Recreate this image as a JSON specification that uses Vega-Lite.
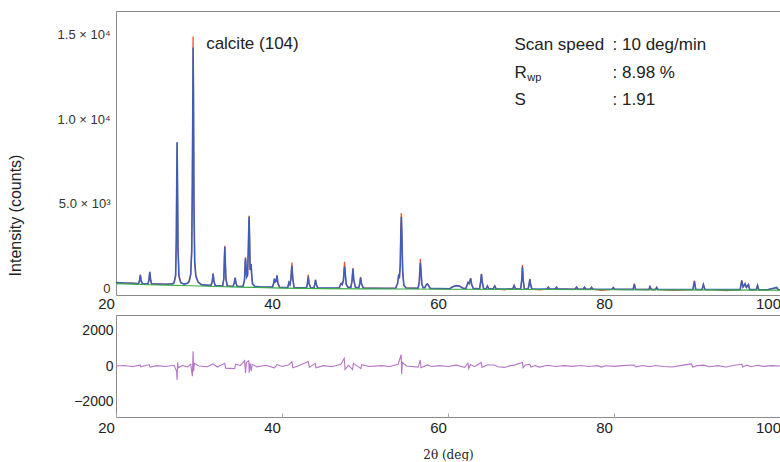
{
  "$schema": "https://vega.github.io/schema/vega-lite/v6.json",
  "background": "white",
  "padding": {"left": 6, "top": 10, "right": 0, "bottom": 0},
  "spacing": 2,
  "config": {
    "view": {"stroke": "#8a8a8a", "strokeWidth": 1},
    "axis": {"grid": false, "ticks": false, "domain": false, "labelFont": "Liberation Sans", "labelColor": "#222222", "labelFontSize": 15, "titleFontWeight": "normal", "titleColor": "#222222"}
  },
  "datasets": {
    "pattern": [
      {"x":20,"o":370,"c":360},{"x":21,"o":330,"c":340},{"x":22,"o":330,"c":320},{"x":22.6,"o":300,"c":305},
      {"x":22.7,"o":300,"c":300},{"x":22.82,"o":450,"c":430},{"x":22.93,"o":830,"c":800},{"x":23.04,"o":450,"c":430},{"x":23.2,"o":295,"c":295},
      {"x":23.85,"o":285,"c":285},{"x":23.96,"o":500,"c":480},{"x":24.07,"o":1010,"c":980},{"x":24.18,"o":500,"c":480},{"x":24.3,"o":285,"c":282},
      {"x":25,"o":280,"c":275},{"x":26,"o":270,"c":262},{"x":26.8,"o":290,"c":285},
      {"x":27.0,"o":360,"c":350},{"x":27.18,"o":800,"c":750},{"x":27.27,"o":3000,"c":2900},{"x":27.32,"o":7000,"c":6500},{"x":27.36,"o":8600,"c":8650},{"x":27.41,"o":6000,"c":6300},{"x":27.47,"o":2500,"c":2400},{"x":27.58,"o":800,"c":750},{"x":27.8,"o":360,"c":360},
      {"x":28.2,"o":270,"c":270},{"x":28.6,"o":320,"c":320},
      {"x":28.8,"o":420,"c":420},{"x":29.0,"o":850,"c":850},{"x":29.12,"o":2200,"c":2200},{"x":29.2,"o":6000,"c":6200},{"x":29.25,"o":11000,"c":10500},{"x":29.29,"o":14870,"c":14220},{"x":29.33,"o":12000,"c":11800},{"x":29.39,"o":5000,"c":5300},{"x":29.48,"o":1600,"c":1600},{"x":29.62,"o":750,"c":750},{"x":29.9,"o":380,"c":390},{"x":30.3,"o":230,"c":240},
      {"x":31.45,"o":190,"c":190},{"x":31.6,"o":450,"c":430},{"x":31.7,"o":910,"c":880},{"x":31.8,"o":450,"c":430},{"x":31.95,"o":185,"c":185},{"x":32.5,"o":170,"c":170},
      {"x":32.85,"o":165,"c":165},{"x":32.99,"o":600,"c":580},{"x":33.06,"o":1800,"c":1750},{"x":33.11,"o":2540,"c":2480},{"x":33.16,"o":1800,"c":1750},{"x":33.24,"o":600,"c":580},{"x":33.4,"o":165,"c":165},
      {"x":34.1,"o":140,"c":140},{"x":34.25,"o":350,"c":340},{"x":34.35,"o":650,"c":640},{"x":34.45,"o":350,"c":340},{"x":34.6,"o":135,"c":135},
      {"x":35.3,"o":140,"c":140},{"x":35.48,"o":500,"c":500},{"x":35.56,"o":1500,"c":1450},{"x":35.6,"o":1850,"c":1800},{"x":35.66,"o":1300,"c":1350},{"x":35.75,"o":700,"c":700},{"x":35.85,"o":800,"c":800},{"x":35.95,"o":2500,"c":2400},{"x":36.01,"o":4000,"c":3900},{"x":36.04,"o":4310,"c":4250},{"x":36.09,"o":3000,"c":3100},{"x":36.16,"o":1100,"c":1100},{"x":36.24,"o":1300,"c":1300},{"x":36.28,"o":1475,"c":1450},{"x":36.34,"o":900,"c":900},{"x":36.45,"o":300,"c":300},{"x":36.7,"o":140,"c":140},
      {"x":37.5,"o":100,"c":105},{"x":38.5,"o":90,"c":95},
      {"x":38.85,"o":100,"c":100},{"x":38.98,"o":300,"c":300},{"x":39.08,"o":560,"c":600},{"x":39.18,"o":400,"c":400},{"x":39.3,"o":450,"c":450},{"x":39.4,"o":780,"c":790},{"x":39.5,"o":350,"c":350},{"x":39.7,"o":90,"c":90},{"x":40.4,"o":70,"c":70},
      {"x":40.7,"o":80,"c":80},{"x":40.83,"o":370,"c":360},{"x":40.95,"o":250,"c":250},{"x":41.08,"o":600,"c":600},{"x":41.19,"o":1550,"c":1350},{"x":41.3,"o":600,"c":600},{"x":41.45,"o":75,"c":75},{"x":42.5,"o":60,"c":60},
      {"x":42.95,"o":60,"c":60},{"x":43.06,"o":300,"c":300},{"x":43.16,"o":830,"c":720},{"x":43.26,"o":300,"c":300},{"x":43.45,"o":55,"c":55},
      {"x":43.85,"o":55,"c":55},{"x":43.95,"o":250,"c":250},{"x":44.04,"o":530,"c":520},{"x":44.14,"o":250,"c":250},{"x":44.3,"o":50,"c":50},
      {"x":45.5,"o":40,"c":45},{"x":46.6,"o":45,"c":45},
      {"x":46.9,"o":60,"c":60},{"x":47.06,"o":250,"c":260},{"x":47.14,"o":320,"c":300},{"x":47.25,"o":250,"c":250},{"x":47.4,"o":500,"c":480},{"x":47.5,"o":1300,"c":1200},{"x":47.54,"o":1590,"c":1300},{"x":47.62,"o":900,"c":900},{"x":47.74,"o":250,"c":250},{"x":47.95,"o":80,"c":80},
      {"x":48.3,"o":80,"c":80},{"x":48.44,"o":500,"c":480},{"x":48.55,"o":1220,"c":1180},{"x":48.65,"o":500,"c":500},{"x":48.85,"o":80,"c":80},
      {"x":49.25,"o":60,"c":60},{"x":49.37,"o":300,"c":300},{"x":49.47,"o":680,"c":660},{"x":49.57,"o":300,"c":300},{"x":49.8,"o":40,"c":40},
      {"x":51,"o":30,"c":30},{"x":52.5,"o":25,"c":25},
      {"x":53.7,"o":40,"c":40},{"x":53.92,"o":300,"c":300},{"x":54.05,"o":760,"c":770},{"x":54.15,"o":700,"c":700},{"x":54.25,"o":1500,"c":1400},{"x":54.32,"o":3500,"c":3400},{"x":54.38,"o":4470,"c":4250},{"x":54.45,"o":3000,"c":3100},{"x":54.54,"o":1000,"c":1000},{"x":54.68,"o":200,"c":200},{"x":54.95,"o":40,"c":40},
      {"x":56.4,"o":30,"c":30},{"x":56.54,"o":400,"c":400},{"x":56.62,"o":1300,"c":1200},{"x":56.67,"o":1750,"c":1530},{"x":56.74,"o":1100,"c":1100},{"x":56.84,"o":300,"c":300},{"x":57.0,"o":60,"c":60},
      {"x":57.2,"o":60,"c":60},{"x":57.4,"o":250,"c":250},{"x":57.52,"o":290,"c":280},{"x":57.65,"o":200,"c":200},{"x":57.85,"o":20,"c":20},{"x":59.0,"o":5,"c":10},
      {"x":60.2,"o":0,"c":0},{"x":60.6,"o":120,"c":120},{"x":61.0,"o":180,"c":180},{"x":61.4,"o":150,"c":150},{"x":61.8,"o":30,"c":30},
      {"x":62.15,"o":10,"c":10},{"x":62.32,"o":250,"c":250},{"x":62.42,"o":370,"c":370},{"x":62.55,"o":300,"c":300},{"x":62.73,"o":620,"c":610},{"x":62.85,"o":250,"c":250},{"x":63.05,"o":20,"c":20},
      {"x":63.8,"o":0,"c":0},{"x":63.93,"o":400,"c":380},{"x":64.03,"o":880,"c":860},{"x":64.13,"o":380,"c":380},{"x":64.3,"o":0,"c":0},
      {"x":64.6,"o":0,"c":0},{"x":64.75,"o":170,"c":150},{"x":64.9,"o":0,"c":0},
      {"x":65.45,"o":-5,"c":-5},{"x":65.63,"o":170,"c":150},{"x":65.8,"o":-10,"c":-10},{"x":66.8,"o":-60,"c":-15},{"x":67.2,"o":-15,"c":-15},
      {"x":67.8,"o":-15,"c":-15},{"x":67.97,"o":200,"c":180},{"x":68.14,"o":-15,"c":-15},
      {"x":68.75,"o":-15,"c":-15},{"x":68.88,"o":500,"c":500},{"x":68.97,"o":1400,"c":1300},{"x":69.06,"o":500,"c":500},{"x":69.2,"o":-15,"c":-15},
      {"x":69.65,"o":-20,"c":-20},{"x":69.77,"o":250,"c":250},{"x":69.86,"o":580,"c":560},{"x":69.95,"o":250,"c":250},{"x":70.1,"o":-20,"c":-20},
      {"x":71.0,"o":-70,"c":-20},{"x":71.9,"o":-20,"c":-20},{"x":72.08,"o":100,"c":90},{"x":72.25,"o":-20,"c":-20},{"x":72.9,"o":-25,"c":-25},{"x":73.08,"o":80,"c":90},{"x":73.25,"o":-25,"c":-25},{"x":74,"o":-25,"c":-25},
      {"x":75.3,"o":-30,"c":-30},{"x":75.49,"o":90,"c":90},{"x":75.65,"o":-30,"c":-30},{"x":76.3,"o":-30,"c":-30},{"x":76.45,"o":90,"c":90},{"x":76.6,"o":-30,"c":-30},{"x":77.15,"o":-30,"c":-30},{"x":77.3,"o":80,"c":80},{"x":77.45,"o":-30,"c":-30},
      {"x":78.5,"o":-90,"c":-35},{"x":79.75,"o":-35,"c":-35},{"x":79.92,"o":60,"c":70},{"x":80.1,"o":-35,"c":-35},
      {"x":81.5,"o":-40,"c":-40},{"x":82.3,"o":-40,"c":-40},{"x":82.45,"o":300,"c":260},{"x":82.6,"o":-40,"c":-40},
      {"x":84.2,"o":-45,"c":-45},{"x":84.33,"o":130,"c":120},{"x":84.5,"o":-45,"c":-45},{"x":85.0,"o":-45,"c":-45},{"x":85.14,"o":80,"c":70},{"x":85.3,"o":-45,"c":-45},
      {"x":87,"o":-100,"c":-50},{"x":89.5,"o":-50,"c":-50},{"x":89.69,"o":480,"c":440},{"x":89.85,"o":-50,"c":-50},
      {"x":90.6,"o":-50,"c":-50},{"x":90.77,"o":260,"c":240},{"x":90.95,"o":-50,"c":-50},{"x":92,"o":-50,"c":-50},{"x":93.5,"o":-110,"c":-55},
      {"x":95.2,"o":-55,"c":-55},{"x":95.39,"o":500,"c":470},{"x":95.55,"o":100,"c":100},{"x":95.79,"o":300,"c":280},{"x":95.95,"o":80,"c":80},{"x":96.2,"o":250,"c":240},{"x":96.35,"o":-55,"c":-55},
      {"x":97.15,"o":-55,"c":-55},{"x":97.29,"o":200,"c":190},{"x":97.45,"o":-55,"c":-55},{"x":98.5,"o":-60,"c":-60},{"x":99.6,"o":60,"c":80},{"x":99.8,"o":-60,"c":-60},{"x":100,"o":-60,"c":-60}
    ],
    "bg": [
      {"x":20,"b":300},{"x":22,"b":270},{"x":24,"b":235},{"x":26,"b":210},{"x":28,"b":190},{"x":30,"b":160},{"x":32,"b":130},{"x":34,"b":105},{"x":36,"b":85},{"x":38,"b":60},{"x":40,"b":40},{"x":45,"b":10},{"x":50,"b":-5},{"x":55,"b":-15},{"x":60,"b":-30},{"x":70,"b":-45},{"x":80,"b":-60},{"x":90,"b":-70},{"x":100,"b":-80}
    ],
    "diff": [
      {"x":20,"d":0},{"x":21,"d":30},{"x":22,"d":-40},{"x":22.9,"d":60},{"x":23.0,"d":-50},{"x":24.0,"d":80},{"x":24.1,"d":-60},{"x":25,"d":20},{"x":26,"d":-30},{"x":27.0,"d":40},{"x":27.3,"d":-300},{"x":27.36,"d":-800},{"x":27.42,"d":200},{"x":27.5,"d":-100},{"x":28,"d":30},{"x":28.6,"d":-50},{"x":29.0,"d":100},{"x":29.2,"d":-580},{"x":29.29,"d":840},{"x":29.35,"d":-300},{"x":29.45,"d":150},{"x":30,"d":0},{"x":31,"d":-40},{"x":31.7,"d":120},{"x":32.2,"d":-60},{"x":33.1,"d":150},{"x":33.2,"d":-120},{"x":34.3,"d":-150},{"x":34.4,"d":100},{"x":35,"d":30},{"x":35.5,"d":300},{"x":35.6,"d":-400},{"x":35.7,"d":200},{"x":36.0,"d":300},{"x":36.05,"d":-380},{"x":36.15,"d":150},{"x":36.3,"d":-300},{"x":36.4,"d":100},{"x":37,"d":-50},{"x":38,"d":40},{"x":39.1,"d":-100},{"x":39.4,"d":80},{"x":40,"d":-30},{"x":40.8,"d":60},{"x":41.2,"d":250},{"x":41.3,"d":-100},{"x":42,"d":20},{"x":43.16,"d":250},{"x":43.3,"d":-80},{"x":44.0,"d":150},{"x":44.1,"d":-100},{"x":45,"d":20},{"x":46,"d":-40},{"x":47.1,"d":100},{"x":47.5,"d":440},{"x":47.6,"d":-200},{"x":48.0,"d":50},{"x":48.5,"d":-200},{"x":48.6,"d":150},{"x":49.5,"d":-150},{"x":49.6,"d":80},{"x":50.5,"d":-30},{"x":52,"d":20},{"x":53,"d":-30},{"x":54.0,"d":100},{"x":54.35,"d":650},{"x":54.42,"d":-450},{"x":54.5,"d":200},{"x":55,"d":0},{"x":56.4,"d":-60},{"x":56.67,"d":340},{"x":56.75,"d":-100},{"x":57.5,"d":60},{"x":58,"d":-30},{"x":59,"d":20},{"x":60,"d":-30},{"x":61,"d":50},{"x":62.0,"d":-80},{"x":62.4,"d":170},{"x":62.5,"d":-150},{"x":62.7,"d":80},{"x":63.2,"d":-40},{"x":64.0,"d":200},{"x":64.1,"d":-80},{"x":64.7,"d":60},{"x":65.6,"d":60},{"x":66,"d":-40},{"x":66.8,"d":-80},{"x":67.5,"d":20},{"x":68.0,"d":50},{"x":68.97,"d":200},{"x":69.05,"d":-100},{"x":69.3,"d":60},{"x":69.86,"d":100},{"x":70.0,"d":-60},{"x":70.5,"d":30},{"x":71,"d":-60},{"x":72,"d":40},{"x":73,"d":-30},{"x":74,"d":20},{"x":75,"d":-20},{"x":76,"d":30},{"x":77,"d":-30},{"x":78,"d":20},{"x":78.5,"d":-60},{"x":79,"d":10},{"x":80,"d":-20},{"x":81,"d":20},{"x":82.45,"d":60},{"x":82.6,"d":-50},{"x":83.5,"d":30},{"x":84.3,"d":-40},{"x":85,"d":30},{"x":86,"d":-30},{"x":87,"d":-60},{"x":88,"d":20},{"x":89.3,"d":120},{"x":89.5,"d":-60},{"x":90,"d":20},{"x":90.8,"d":50},{"x":91.5,"d":-40},{"x":92.5,"d":20},{"x":93.5,"d":-60},{"x":94.5,"d":40},{"x":95.4,"d":100},{"x":95.5,"d":-60},{"x":96,"d":50},{"x":96.5,"d":-40},{"x":97.3,"d":40},{"x":98,"d":-20},{"x":99,"d":20},{"x":100,"d":0}
    ]
  },
  "vconcat": [
    {
      "width": 664,
      "height": 284,
      "layer": [
        {
          "data": {"name": "pattern"},
          "mark": {"type": "line", "color": "#ee5530", "strokeWidth": 1.3, "clip": true},
          "encoding": {
            "x": {"field": "x", "type": "quantitative", "scale": {"domain": [20, 100], "nice": false, "zero": false},
                  "axis": {"values": [20, 40, 60, 80, 100], "title": null, "labelPadding": 1, "labelOffset": {"condition": {"test": "datum.value == 100", "value": -12}, "value": -10}, "labelFlush": false}},
            "y": {"field": "o", "type": "quantitative", "scale": {"domain": [-370, 16380], "nice": false, "zero": false},
                  "axis": {"values": [0, 5000, 10000, 15000], "labelFontSize": 13, "labelColor": "#333333", "labelPadding": 6,
                           "labelExpr": "datum.value == 0 ? '0' : datum.value == 5000 ? '5.0 × 10³' : datum.value == 10000 ? '1.0 × 10⁴' : '1.5 × 10⁴'",
                           "title": "Intensity (counts)", "titleFont": "Liberation Sans", "titleFontSize": 16, "titleX": -93, "titleY": 204}}
          }
        },
        {
          "data": {"name": "pattern"},
          "mark": {"type": "line", "color": "#2a5cc6", "strokeWidth": 1.6, "opacity": 0.88, "clip": true},
          "encoding": {"x": {"field": "x", "type": "quantitative"}, "y": {"field": "c", "type": "quantitative"}}
        },
        {
          "data": {"name": "bg"},
          "mark": {"type": "line", "color": "#3aaa44", "strokeWidth": 1.2, "clip": true},
          "encoding": {"x": {"field": "x", "type": "quantitative"}, "y": {"field": "b", "type": "quantitative"}}
        },
        {
          "data": {"values": [{"x": 30.86, "y": 14455, "t": "calcite (104)"}]},
          "mark": {"type": "text", "align": "left", "baseline": "middle", "font": "Liberation Sans", "fontSize": 17, "color": "#222222"},
          "encoding": {"x": {"field": "x", "type": "quantitative"}, "y": {"field": "y", "type": "quantitative"}, "text": {"field": "t"}}
        },
        {
          "data": {"values": [
            {"x": 68.0, "y": 14400, "t": "Scan speed"},
            {"x": 68.0, "y": 12740, "t": "R"},
            {"x": 68.0, "y": 11150, "t": "S"},
            {"x": 79.83, "y": 14400, "t": ": 10 deg/min"},
            {"x": 79.83, "y": 12740, "t": ": 8.98 %"},
            {"x": 79.83, "y": 11150, "t": ": 1.91"}
          ]},
          "mark": {"type": "text", "align": "left", "baseline": "middle", "font": "Liberation Sans", "fontSize": 17, "color": "#222222"},
          "encoding": {"x": {"field": "x", "type": "quantitative"}, "y": {"field": "y", "type": "quantitative"}, "text": {"field": "t"}}
        },
        {
          "data": {"values": [{"x": 69.55, "y": 12420, "t": "wp"}]},
          "mark": {"type": "text", "align": "left", "baseline": "middle", "font": "Liberation Sans", "fontSize": 11, "color": "#222222"},
          "encoding": {"x": {"field": "x", "type": "quantitative"}, "y": {"field": "y", "type": "quantitative"}, "text": {"field": "t"}}
        }
      ]
    },
    {
      "width": 664,
      "height": 102,
      "layer": [
        {
          "mark": {"type": "rule", "color": "#8f7c98", "strokeWidth": 1.6},
          "encoding": {"y": {"datum": 0, "type": "quantitative"}}
        },
        {
          "data": {"name": "diff"},
          "mark": {"type": "line", "color": "#b574c6", "strokeWidth": 1.1, "clip": true},
          "encoding": {
            "x": {"field": "x", "type": "quantitative", "scale": {"domain": [20, 100], "nice": false, "zero": false},
                  "axis": {"values": [20, 40, 60, 80, 100], "labelPadding": 7, "labelOffset": {"condition": {"test": "datum.value == 100", "value": -12}, "value": -10}, "labelFlush": false, "ticks": true, "tickSize": -4, "tickColor": "#aaaaaa",
                           "title": "2θ (deg)", "titleFont": "DejaVu Serif", "titleFontSize": 12, "titlePadding": 14}},
            "y": {"field": "d", "type": "quantitative", "scale": {"domain": [-2900, 2900], "nice": false, "zero": false},
                  "axis": {"values": [-2000, 0, 2000], "format": "d", "labelFontSize": 14, "labelPadding": 3, "title": null}}
          }
        }
      ]
    }
  ]
}
